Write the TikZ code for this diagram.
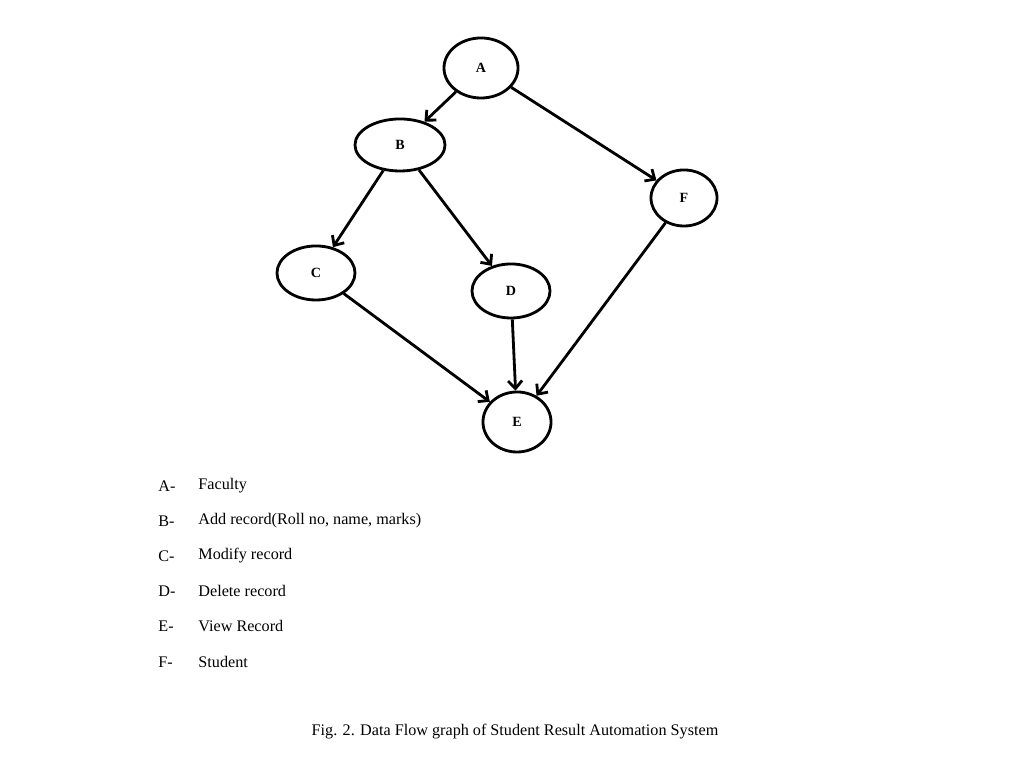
\documentclass[tikz,border=0pt]{standalone}
\usepackage{fontspec}
\setmainfont{Liberation Serif}
\usetikzlibrary{arrows.meta,shapes.geometric}
\begin{document}
\begin{tikzpicture}[x=0.01cm,y=-0.01cm,
  st/.style={ellipse,draw,line width=0.8pt,inner sep=0pt,font=\fontsize{4}{5}\selectfont\bfseries},
  ar/.style={line width=0.8pt,-{Straight Barb[length=2.2pt,width=4pt]}},
  lg/.style={anchor=west,font=\fontsize{4.6}{5.5}\selectfont}]
\useasboundingbox (0,0) rectangle (1024,768);
\node[st,minimum width=74\pgflinewidth,minimum width=0.74cm,minimum height=0.6cm] (A) at (481,68) {A};
\node[st,minimum width=0.9cm,minimum height=0.52cm] (B) at (400,145) {B};
\node[st,minimum width=0.78cm,minimum height=0.54cm] (C) at (316,273) {C};
\node[st,minimum width=0.78cm,minimum height=0.54cm] (D) at (511,291) {D};
\node[st,minimum width=0.68cm,minimum height=0.6cm] (E) at (517,422) {E};
\node[st,minimum width=0.66cm,minimum height=0.56cm] (F) at (684,198) {F};
\draw[ar] (A) -- (B);
\draw[ar] (A) -- (F);
\draw[ar] (B) -- (C);
\draw[ar] (B) -- (D);
\draw[ar] (C) -- (E);
\draw[ar] (D) -- (E);
\draw[ar] (F) -- (E);
\foreach \l/\t/\y in {A/Faculty/486,B/{Add record(Roll no, name, marks)}/521,C/Modify record/556,D/Delete record/591,E/View Record/626,F/Student/662}{
  \node[lg] (l\l) at (146,\y) {\l-};
  \node[lg] (t\l) at (186,\y) {\t};
}
\node[font=\fontsize{4.6}{5.5}\selectfont] (cap) at (515,732) {Fig. 2. Data Flow graph of Student Result Automation System};
\end{tikzpicture}
\end{document}
